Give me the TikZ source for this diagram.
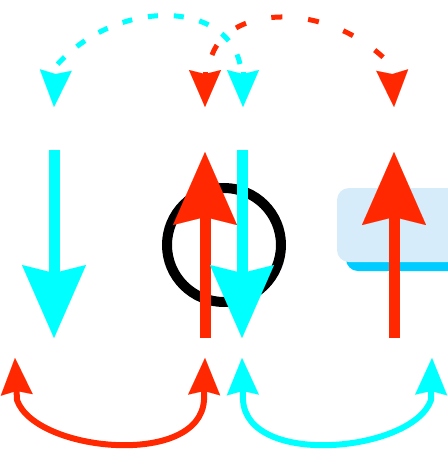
\documentclass[tikz,border=0pt]{standalone}
\usetikzlibrary{arrows.meta}
\definecolor{spinred}{RGB}{255,40,0}
\definecolor{spincyan}{RGB}{0,255,255}
\definecolor{panelfill}{RGB}{214,236,250}
\definecolor{panelshadow}{RGB}{0,204,255}
\tikzset{
  bigtip/.style={-{Stealth[length=73pt,width=64pt,inset=8pt,line width=0.01pt]}},
  spin/.style={line width=11pt, bigtip},
  smalltip/.tip={Stealth[length=37pt,width=32pt,inset=4pt,line width=0.01pt]},
  hop/.style={line width=5pt},
  swap/.style={line width=6pt, smalltip-smalltip},
  ring/.style={circle, draw=black, line width=10pt, minimum size=114pt, inner sep=0pt},
}
\begin{document}
\begin{tikzpicture}[x=1pt,y=-1pt]
\useasboundingbox (0,0) rectangle (448,451);
\clip (0,0) rectangle (448,451);

% shaded panel on the right edge
\fill[panelshadow, rounded corners=12pt] (346,197) rectangle (470,271);
\fill[panelfill, rounded corners=12pt] (337,188) rectangle (461,262);

% ring around the middle pair
\node[ring] (ring) at (224,245) {};

% spin columns
\coordinate (aTop) at (54,150);   \coordinate (aBot) at (54,338);
\coordinate (bBot) at (205,338);  \coordinate (bTop) at (205,152);
\coordinate (cTop) at (242,150);  \coordinate (cBot) at (242,338);
\coordinate (dBot) at (394,338);  \coordinate (dTop) at (394,152);

\draw[spin, spincyan] (aTop) -- (aBot);
\draw[spin, spinred] (bBot) -- (bTop);
\draw[spin, spincyan] (cTop) -- (cBot);
\draw[spin, spinred] (dBot) -- (dTop);

% dashed hops along the top
\coordinate (hcS) at (240,64);  \coordinate (hcB) at (56,66);  \coordinate (hcT) at (54,107);
\coordinate (hrS) at (212,55);  \coordinate (hrB) at (392,66); \coordinate (hrT) at (394,107);
\coordinate (mcT) at (243,107); \coordinate (mcB) at (243,72);
\coordinate (mrT) at (205,107); \coordinate (mrB) at (205,72);

\draw[hop, spincyan, dash pattern=on 10pt off 16pt, -smalltip]
  (hcS) .. controls (225,-1) and (115,-1) .. (hcB) -- (hcT);
\draw[hop, spinred, dash pattern=on 11pt off 26pt, -smalltip]
  (hrS) .. controls (230,5) and (330,0) .. (hrB) -- (hrT);
% lone heads under the middle column
\draw[hop, spincyan, -smalltip] (mcB) -- (mcT);
\draw[hop, spinred, -smalltip] (mrB) -- (mrT);

% swaps along the bottom
\coordinate (sAt) at (15,358);  \coordinate (sAb) at (17,400);
\coordinate (sBt) at (205,358); \coordinate (sBb) at (204,400);
\coordinate (sCt) at (242,358); \coordinate (sCb) at (243,400);
\coordinate (sDt) at (432,358); \coordinate (sDb) at (431,400);

\draw[swap, spinred] (sAt) -- (sAb) .. controls (35,452) and (200,468) .. (sBb) -- (sBt);
\draw[swap, spincyan] (sCt) -- (sCb) .. controls (247,468) and (413,452) .. (sDb) -- (sDt);
\end{tikzpicture}
\end{document}
